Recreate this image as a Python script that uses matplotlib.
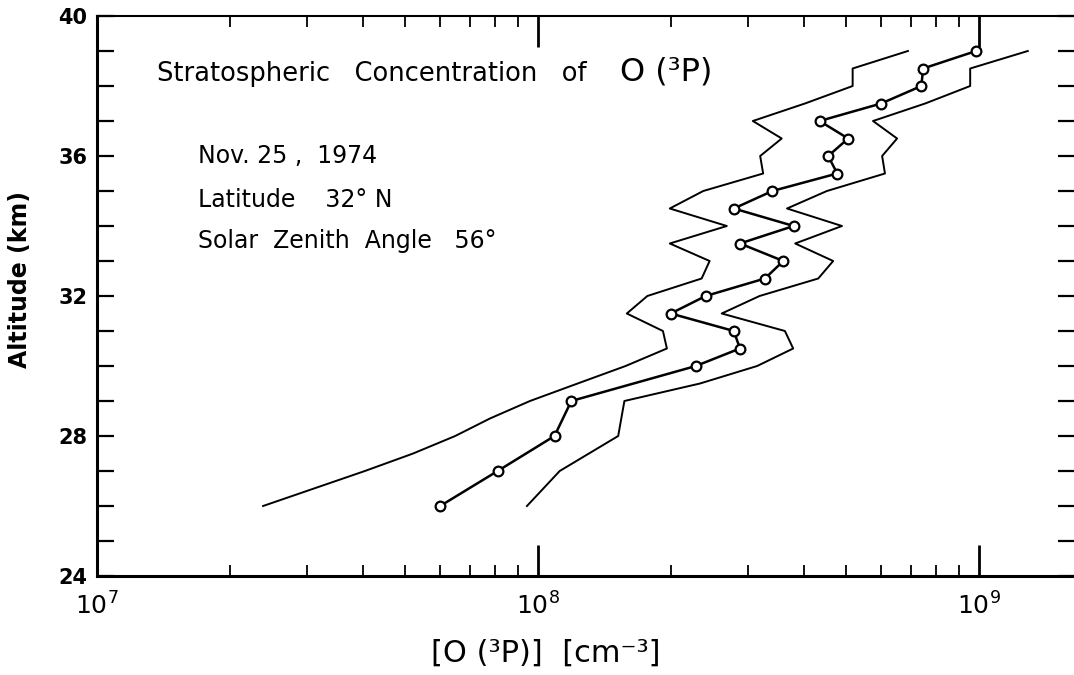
import numpy as np
import matplotlib
matplotlib.use('Agg')
import matplotlib.pyplot as plt
from matplotlib.ticker import MultipleLocator, LogLocator, NullFormatter, FixedLocator

# Altitude grid (km)
alt = [26.0, 27.0, 28.0, 29.0, 30.0, 30.5, 31.0, 31.5, 32.0, 32.5, 33.0, 33.5,
       34.0, 34.5, 35.0, 35.5, 36.0, 36.5, 37.0, 37.5, 38.0, 38.5, 39.0]

# Measured O(3P) concentration (cm^-3)
conc = [6.0e7, 8.1e7, 1.09e8, 1.19e8, 2.28e8, 2.87e8, 2.78e8, 2.0e8, 2.4e8, 3.27e8,
        3.6e8, 2.87e8, 3.8e8, 2.78e8, 3.4e8, 4.77e8, 4.55e8, 5.05e8, 4.35e8, 6.0e8,
        7.4e8, 7.47e8, 9.85e8]

# Lower error envelope
alt_lo = [26.0, 27.0, 27.5, 28.0, 28.5, 29.0, 29.5, 30.0, 30.5, 31.0, 31.5, 32.0, 32.5,
          33.0, 33.5, 34.0, 34.5, 35.0, 35.5, 36.0, 36.5, 37.0, 37.5, 38.0, 38.5, 39.0]
conc_lo = [2.38e7, 4.05e7, 5.21e7, 6.49e7, 7.78e7, 9.59e7, 1.23e8, 1.58e8, 1.96e8, 1.92e8,
           1.59e8, 1.77e8, 2.35e8, 2.45e8, 1.99e8, 2.68e8, 1.99e8, 2.37e8, 3.24e8, 3.19e8,
           3.57e8, 3.07e8, 4.03e8, 5.17e8, 5.17e8, 6.9e8]

# Upper error envelope
alt_hi = [26.0, 27.0, 28.0, 29.0, 29.5, 30.0, 30.5, 31.0, 31.5, 32.0, 32.5, 33.0, 33.5,
          34.0, 34.5, 35.0, 35.5, 36.0, 36.5, 37.0, 37.5, 38.0, 38.5, 39.0]
conc_hi = [9.44e7, 1.12e8, 1.52e8, 1.57e8, 2.33e8, 3.14e8, 3.79e8, 3.63e8, 2.61e8, 3.18e8,
           4.32e8, 4.67e8, 3.83e8, 4.89e8, 3.67e8, 4.52e8, 6.12e8, 6.03e8, 6.52e8, 5.75e8,
           7.55e8, 9.55e8, 9.55e8, 1.29e9]

fig = plt.figure(figsize=(10.74, 6.75), dpi=100)
ax = fig.add_axes([97 / 1074, 1 - 576 / 675, 978 / 1074, 560 / 675])

ax.plot(conc_lo, alt_lo, color='black', lw=1.4)
ax.plot(conc_hi, alt_hi, color='black', lw=1.4)
ax.plot(conc, alt, color='black', lw=1.8, marker='o', ms=7, mfc='white',
        mec='black', mew=1.6)

ax.set_xscale('log')
ax.set_xlim(1e7, 10 ** (7 + 978 / 441))
ax.set_ylim(24, 40)

ax.set_yticks([24, 28, 32, 36, 40])
ax.yaxis.set_minor_locator(MultipleLocator(1))
ax.xaxis.set_major_locator(FixedLocator([1e7, 1e8, 1e9]))
ax.set_xticklabels(['$10^{7}$', '$10^{8}$', '$10^{9}$'], fontsize=18)
ax.xaxis.set_minor_locator(LogLocator(base=10, subs=np.arange(2, 10)))
ax.xaxis.set_minor_formatter(NullFormatter())

ax.tick_params(axis='y', which='both', direction='in', length=12, width=1.6,
               left=True, right=True, labelsize=15, pad=7)
ax.tick_params(axis='x', which='major', direction='in', length=22, width=2,
               top=True, bottom=True, pad=12)
ax.tick_params(axis='x', which='minor', direction='in', length=8, width=1.3,
               top=True, bottom=True)
for lab in ax.get_yticklabels():
    lab.set_fontweight('bold')

ax.spines['right'].set_visible(False)
ax.spines['left'].set_linewidth(2.2)
ax.spines['bottom'].set_linewidth(2.2)
ax.spines['top'].set_linewidth(1.5)

ax.set_ylabel('Altitude (km)', fontsize=17, fontweight='bold')
ax.yaxis.set_label_coords(-0.0665, 0.53)
ax.set_xlabel('[O (³P)]  [cm⁻³]', fontsize=22)
ax.xaxis.set_label_coords(0.459, -0.112)

ax.text(0.0613, 0.884, 'Stratospheric   Concentration   of', transform=ax.transAxes,
        fontsize=18.5, va='baseline')
ax.text(0.535, 0.884, 'O (³P)', transform=ax.transAxes, fontsize=23, va='baseline')
ax.text(0.1033, 0.7375, 'Nov. 25 ,  1974', transform=ax.transAxes, fontsize=17,
        va='baseline')
ax.text(0.1033, 0.659, 'Latitude    32° N', transform=ax.transAxes, fontsize=17,
        va='baseline')
ax.text(0.1033, 0.586, 'Solar  Zenith  Angle   56°', transform=ax.transAxes, fontsize=17,
        va='baseline')

fig.savefig('out.png', dpi=100)
